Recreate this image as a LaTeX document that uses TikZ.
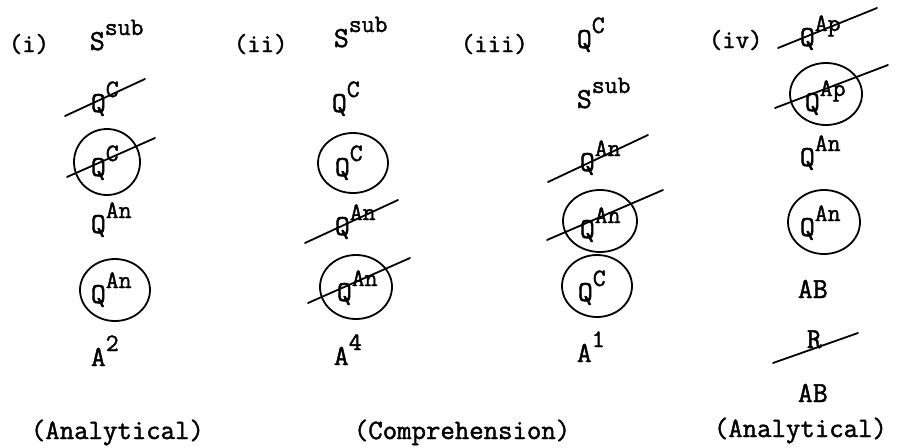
\documentclass[tikz,border=0pt]{standalone}
\usepackage{fontspec}
\usepackage{tikz}
\newfontfamily\tw[FakeBold=1.6]{Latin Modern Mono}
\newcommand{\basefont}{\tw\fontsize{29}{29}\selectfont}
\newcommand{\supfont}{\tw\fontsize{25}{25}\selectfont}
\newcommand{\term}[2]{#1\raisebox{15pt}{\supfont #2}}

\begin{document}
\begin{tikzpicture}[x=1pt, y=-1pt, line width=1.8pt, line cap=round,
    term/.style={font=\basefont, anchor=base west, inner sep=0pt},
    tag/.style={font=\tw\fontsize{26}{26}\selectfont, anchor=base west, inner sep=0pt},
    kind/.style={font=\tw\fontsize{28}{28}\selectfont, anchor=base west, inner sep=0pt}]
    \useasboundingbox (0,0) rectangle (901,447);
    % (i)
    \node[tag] (ti) at (8, 52) {(i)};
    \node[term] (s1) at (89, 50) {\term{S}{sub}};
    \node[term] (qc1) at (90, 112) {\term{Q}{C}};
    \draw (65,116) -- (145,79);
    \node[term] (qc1r) at (90, 176) {\term{Q}{C}};
    \draw (107,162) ellipse[x radius=33, y radius=33];
    \draw (67,177) -- (155,138);
    \node[term] (qa1) at (90, 233) {\term{Q}{An}};
    \node[term] (qa1r) at (90, 303) {\term{Q}{An}};
    \draw (115,290) ellipse[x radius=35, y radius=31];
    \node[term] (a1) at (90, 366) {\term{A}{2}};
    % (ii)
    \node[tag] (tii) at (233, 52) {(ii)};
    \node[term] (s2) at (333, 47) {\term{S}{sub}};
    \node[term] (qc2) at (331, 112) {\term{Q}{C}};
    \node[term] (qc2r) at (334, 176) {\term{Q}{C}};
    \draw (353,163) ellipse[x radius=35, y radius=30];
    \node[term] (qa2) at (334, 235) {\term{Q}{An}};
    \draw (305,243) -- (398,200);
    \node[term] (qa2r) at (336, 301) {\term{Q}{An}};
    \draw (356,287) ellipse[x radius=36, y radius=32];
    \draw (308,303) -- (410,258);
    \node[term] (a2) at (333, 365) {\term{A}{4}};
    % (iii)
    \node[tag] (tiii) at (460, 52) {(iii)};
    \node[term] (qc3) at (576, 48) {\term{Q}{C}};
    \node[term] (s3) at (576, 108) {\term{S}{sub}};
    \node[term] (qa3) at (579, 171) {\term{Q}{An}};
    \draw (548,182) -- (648,135);
    \node[term] (qa3r) at (579, 238) {\term{Q}{An}};
    \draw (600,221) ellipse[x radius=37, y radius=31];
    \draw (547,240) -- (663,190);
    \node[term] (qc3r) at (577, 301) {\term{Q}{C}};
    \draw (597,286) ellipse[x radius=35, y radius=31];
    \node[term] (a3) at (576, 362) {\term{A}{1}};
    % (iv)
    \node[tag] (tiv) at (708, 48) {(iv)};
    \node[term] (qp4) at (799, 46) {\term{Q}{Ap}};
    \draw (778,48) -- (877,8);
    \node[term] (qp4r) at (804, 111) {\term{Q}{Ap}};
    \draw (826,94) ellipse[x radius=36, y radius=31];
    \draw (775,108) -- (888,65);
    \node[term] (qa4) at (799, 166) {\term{Q}{An}};
    \node[term] (qa4r) at (799, 236) {\term{Q}{An}};
    \draw (824,222) ellipse[x radius=36, y radius=32];
    \node[term] (ab4) at (797, 298) {AB};
    \node[term] (r4) at (806, 348) {R};
    \draw (773,363) -- (858,333);
    \node[term] (ab4b) at (797, 402) {AB};
    % kinds
    \node[kind] (k1) at (30, 439) {(Analytical)};
    \node[kind] (k2) at (353, 439) {(Comprehension)};
    \node[kind] (k3) at (713, 437) {(Analytical)};
\end{tikzpicture}
\end{document}
